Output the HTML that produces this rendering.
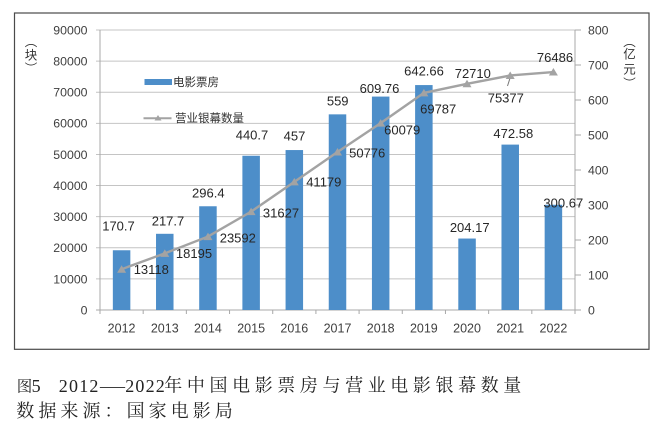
<!DOCTYPE html>
<html><head><meta charset="utf-8"><style>
html,body{margin:0;padding:0;background:#fff;}
svg{display:block;}
.t{font-family:"Liberation Sans","Noto Sans CJK SC",sans-serif;}
</style></head><body>
<svg width="668" height="433" viewBox="0 0 668 433" xmlns="http://www.w3.org/2000/svg">
<rect width="668" height="433" fill="#fff"/>
<rect x="14.5" y="13" width="634.5" height="336.3" fill="none" stroke="#4a4a4a" stroke-width="1.2"/>
<g stroke="#c4c4c4" stroke-width="1">
<line x1="96" y1="30" x2="575" y2="30"/>
<line x1="96" y1="61.11" x2="575" y2="61.11"/>
<line x1="96" y1="92.22" x2="575" y2="92.22"/>
<line x1="96" y1="123.33" x2="575" y2="123.33"/>
<line x1="96" y1="154.44" x2="575" y2="154.44"/>
<line x1="96" y1="185.56" x2="575" y2="185.56"/>
<line x1="96" y1="216.67" x2="575" y2="216.67"/>
<line x1="96" y1="247.78" x2="575" y2="247.78"/>
<line x1="96" y1="278.89" x2="575" y2="278.89"/>
</g>
<g stroke="#a8a8a8" stroke-width="1">
<line x1="100" y1="30" x2="100" y2="310"/>
<line x1="575" y1="30" x2="575" y2="310"/>
<line x1="96" y1="310" x2="581" y2="310"/>
<line x1="575" y1="30" x2="581" y2="30"/>
<line x1="575" y1="65" x2="581" y2="65"/>
<line x1="575" y1="100" x2="581" y2="100"/>
<line x1="575" y1="135" x2="581" y2="135"/>
<line x1="575" y1="170" x2="581" y2="170"/>
<line x1="575" y1="205" x2="581" y2="205"/>
<line x1="575" y1="240" x2="581" y2="240"/>
<line x1="575" y1="275" x2="581" y2="275"/>
<line x1="100" y1="310" x2="100" y2="314"/>
<line x1="143.18" y1="310" x2="143.18" y2="314"/>
<line x1="186.36" y1="310" x2="186.36" y2="314"/>
<line x1="229.55" y1="310" x2="229.55" y2="314"/>
<line x1="272.73" y1="310" x2="272.73" y2="314"/>
<line x1="315.91" y1="310" x2="315.91" y2="314"/>
<line x1="359.09" y1="310" x2="359.09" y2="314"/>
<line x1="402.27" y1="310" x2="402.27" y2="314"/>
<line x1="445.45" y1="310" x2="445.45" y2="314"/>
<line x1="488.64" y1="310" x2="488.64" y2="314"/>
<line x1="531.82" y1="310" x2="531.82" y2="314"/>
<line x1="575" y1="310" x2="575" y2="314"/>
</g>
<g fill="#4d8ec9">
<rect x="112.84" y="250.26" width="17.5" height="59.74"/>
<rect x="156.02" y="233.8" width="17.5" height="76.2"/>
<rect x="199.2" y="206.26" width="17.5" height="103.74"/>
<rect x="242.39" y="155.75" width="17.5" height="154.25"/>
<rect x="285.57" y="150.05" width="17.5" height="159.95"/>
<rect x="328.75" y="114.35" width="17.5" height="195.65"/>
<rect x="371.93" y="96.58" width="17.5" height="213.42"/>
<rect x="415.11" y="85.07" width="17.5" height="224.93"/>
<rect x="458.3" y="238.54" width="17.5" height="71.46"/>
<rect x="501.48" y="144.6" width="17.5" height="165.4"/>
<rect x="544.66" y="204.77" width="17.5" height="105.23"/>
</g>
<polyline fill="none" stroke="#a3a3a3" stroke-width="2.4" points="121.59,269.19 164.77,253.39 207.95,236.6 251.14,211.61 294.32,181.89 337.5,152.03 380.68,123.09 423.86,92.89 467.05,83.79 510.23,75.49 553.41,72.04"/>
<line x1="507.5" y1="86" x2="511" y2="75" stroke="#777" stroke-width="1"/>
<g fill="#a3a3a3">
<polygon points="117.1,272.7 126.1,272.7 121.6,265.2"/>
<polygon points="160.3,256.9 169.3,256.9 164.8,249.4"/>
<polygon points="203.5,240.1 212.5,240.1 208,232.6"/>
<polygon points="246.6,215.1 255.6,215.1 251.1,207.6"/>
<polygon points="289.8,185.4 298.8,185.4 294.3,177.9"/>
<polygon points="333,155.5 342,155.5 337.5,148"/>
<polygon points="376.2,126.6 385.2,126.6 380.7,119.1"/>
<polygon points="419.4,96.4 428.4,96.4 423.9,88.9"/>
<polygon points="462.5,87.3 471.5,87.3 467,79.8"/>
<polygon points="505.7,79 514.7,79 510.2,71.5"/>
<polygon points="548.9,75.5 557.9,75.5 553.4,68"/>
</g>
<g class="t" font-size="12.3" fill="#404040" text-anchor="end">
<text x="87.5" y="34.4">90000</text>
<text x="87.5" y="65.5">80000</text>
<text x="87.5" y="96.6">70000</text>
<text x="87.5" y="127.7">60000</text>
<text x="87.5" y="158.8">50000</text>
<text x="87.5" y="190">40000</text>
<text x="87.5" y="221.1">30000</text>
<text x="87.5" y="252.2">20000</text>
<text x="87.5" y="283.3">10000</text>
<text x="87.5" y="314.4">0</text>
</g>
<g class="t" font-size="12.3" fill="#404040" text-anchor="start">
<text x="588" y="34.4">800</text>
<text x="588" y="69.4">700</text>
<text x="588" y="104.4">600</text>
<text x="588" y="139.4">500</text>
<text x="588" y="174.4">400</text>
<text x="588" y="209.4">300</text>
<text x="588" y="244.4">200</text>
<text x="588" y="279.4">100</text>
<text x="588" y="314.4">0</text>
</g>
<g class="t" font-size="12.5" fill="#404040" text-anchor="middle">
<text x="121.59" y="332.5">2012</text>
<text x="164.77" y="332.5">2013</text>
<text x="207.95" y="332.5">2014</text>
<text x="251.14" y="332.5">2015</text>
<text x="294.32" y="332.5">2016</text>
<text x="337.5" y="332.5">2017</text>
<text x="380.68" y="332.5">2018</text>
<text x="423.86" y="332.5">2019</text>
<text x="467.05" y="332.5">2020</text>
<text x="510.23" y="332.5">2021</text>
<text x="553.41" y="332.5">2022</text>
</g>
<g class="t" font-size="13" fill="#262626" text-anchor="middle">
<text x="118.5" y="230.6">170.7</text>
<text x="168" y="225.3">217.7</text>
<text x="208.3" y="197.3">296.4</text>
<text x="252" y="139.6">440.7</text>
<text x="294.5" y="140.6">457</text>
<text x="337.7" y="105.6">559</text>
<text x="379.5" y="92.9">609.76</text>
<text x="424" y="75.3">642.66</text>
<text x="469.7" y="231.9">204.17</text>
<text x="513.3" y="137.9">472.58</text>
<text x="563.3" y="207.3">300.67</text>
<text x="151.3" y="273.9">13118</text>
<text x="194" y="257.9">18195</text>
<text x="237.8" y="242.3">23592</text>
<text x="281" y="217.6">31627</text>
<text x="323.8" y="186.3">41179</text>
<text x="367.2" y="157.3">50776</text>
<text x="402.2" y="134.6">60079</text>
<text x="438.2" y="113.6">69787</text>
<text x="472.8" y="77.9">72710</text>
<text x="505.8" y="102.3">75377</text>
<text x="555" y="61.9">76486</text>
</g>
<rect x="144.5" y="79" width="27.5" height="6" fill="#4d8ec9"/>
<line x1="143.5" y1="118.3" x2="171.5" y2="118.3" stroke="#a3a3a3" stroke-width="2"/>
<polygon points="154.5,120.5 161.5,120.5 158,115" fill="#a3a3a3"/>
<g font-family="'Liberation Sans','Noto Sans CJK SC',sans-serif" font-size="11.5" fill="#333">
<text x="173" y="86">电影票房</text>
<text x="175" y="122">营业银幕数量</text>
</g>
<g font-family="'Noto Sans CJK SC',sans-serif" font-size="12.5" fill="#333" text-anchor="middle">
<text x="31" y="46">︵</text>
<text x="31" y="59.5">块</text>
<text x="31" y="73">︶</text>
<text x="629.5" y="46">︵</text>
<text x="629.5" y="58.5">亿</text>
<text x="629.5" y="73.5">元</text>
<text x="629.5" y="88">︶</text>
</g>
<g fill="#222" font-size="18">
<text x="16.8" y="391.5" font-family="'Noto Serif CJK SC',serif" font-size="15.5">图</text>
<text x="31.6" y="392" font-family="'Liberation Serif',serif">5</text>
<text x="58.8" y="392" font-family="'Liberation Serif',serif" letter-spacing="1.2">2012</text>
<text x="100" y="392" font-family="'Liberation Serif',serif" textLength="25" lengthAdjust="spacingAndGlyphs">—</text>
<text x="125.2" y="392" font-family="'Liberation Serif',serif" letter-spacing="1.2">2022</text>
<text x="164.3" y="391.5" font-family="'Noto Serif CJK SC',serif" textLength="357" lengthAdjust="spacing">年中国电影票房与营业电影银幕数量</text>
<text x="16.3" y="417" font-family="'Noto Serif CJK SC',serif" textLength="216.5" lengthAdjust="spacing">数据来源：国家电影局</text>
</g>
</svg>
</body></html>
